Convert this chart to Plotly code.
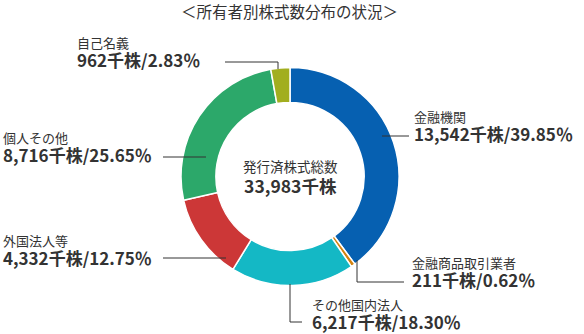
import plotly.graph_objects as go

categories = ["金融機関", "金融商品取引業者", "その他国内法人", "外国法人等", "個人その他", "自己名義"]
shares = [13542, 211, 6217, 4332, 8716, 962]
percents = ["39.85", "0.62", "18.30", "12.75", "25.65", "2.83"]
colors = ["#0660b1", "#d4830f", "#14b8c5", "#cc3737", "#2ca86a", "#a2ae1f"]
total_label = "発行済株式総数"
total_value = "33,983千株"
title = "＜所有者別株式数分布の状況＞"

W, H = 584, 334
CX, CY, R = 290, 176.5, 109

def px(x, y):
    return x / W, 1 - y / H

FONT = "Noto Sans CJK JP"
TXT = "#333333"

fig = go.Figure()
fig.add_trace(go.Pie(
    labels=categories, values=shares, sort=False, direction="clockwise",
    rotation=0, hole=0.68, textinfo="none", hoverinfo="label+value",
    marker=dict(colors=colors, line=dict(color="white", width=1.5)),
    domain=dict(x=[(CX - R) / W, (CX + R) / W], y=[(H - CY - R) / H, (H - CY + R) / H]),
    showlegend=False,
))

# label block positions (pixel): (x, y_mid)
label_pos = [
    (413, 127),
    (411, 272),
    (311, 314),
    (2, 250),
    (2, 148),
    (76, 53),
]
# leader polylines (pixel)
leaders = [
    [(382, 136), (409, 136)],
    [(357, 260), (357, 282), (404, 282)],
    [(290, 284), (290, 322), (302, 322)],
    [(163, 258), (226, 258)],
    [(163, 157), (206, 157)],
    [(225, 62), (278, 62), (278, 69)],
]

anns = []
for i, cat in enumerate(categories):
    x, ym = label_pos[i]
    ax, ay = px(x, ym)
    txt = (f"<span style='font-size:13px'>{cat}</span><br>"
           f"<b><span style='font-size:17px'>{shares[i]:,}千株/{percents[i]}％</span></b>")
    anns.append(dict(x=ax, y=ay, xref="paper", yref="paper", xanchor="left", yanchor="middle",
                     align="left", text=txt, showarrow=False, borderpad=0,
                     font=dict(family=FONT, size=14.6, color=TXT)))

tx, ty = px(CX, 177)
anns.append(dict(x=tx, y=ty, xref="paper", yref="paper", xanchor="center", yanchor="middle",
                 align="center", borderpad=0,
                 text=(f"<span style='font-size:13.5px'>{total_label}</span><br>"
                       f"<b><span style='font-size:17.5px'>{total_value}</span></b>"),
                 showarrow=False, font=dict(family=FONT, size=16, color=TXT)))
tx, ty = px(289, 11)
anns.append(dict(x=tx, y=ty, xref="paper", yref="paper", xanchor="center", yanchor="middle",
                 text=title, showarrow=False, borderpad=0,
                 font=dict(family=FONT, size=15.5, color=TXT)))

shapes = []
for pts in leaders:
    p = [px(x, y) for x, y in pts]
    path = "M " + " L ".join(f"{a},{b}" for a, b in p)
    shapes.append(dict(type="path", path=path, xref="paper", yref="paper",
                       line=dict(color="#333333", width=1)))

fig.update_layout(
    width=W, height=H, margin=dict(l=0, r=0, t=0, b=0),
    paper_bgcolor="white", plot_bgcolor="white",
    annotations=anns, shapes=shapes,
)
fig.write_html("out.html")
